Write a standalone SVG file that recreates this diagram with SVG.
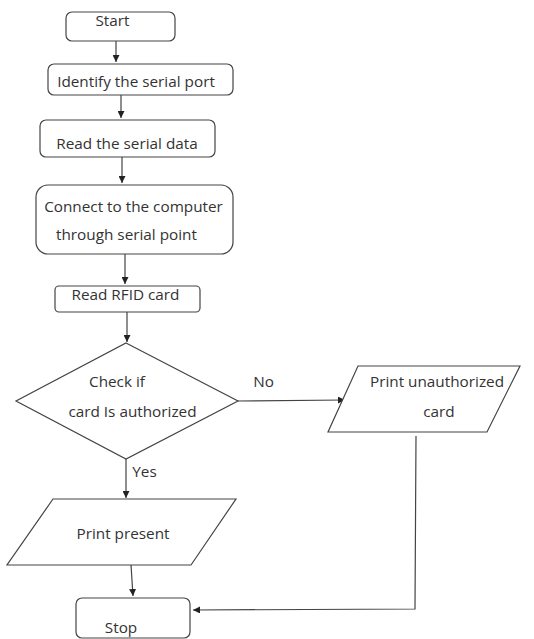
<svg xmlns="http://www.w3.org/2000/svg" width="534" height="639" viewBox="0 0 534 639">
<style>
.s{fill:#fff;stroke:#444;stroke-width:1.2}
.t{font-family:"Open Sans","Liberation Sans",sans-serif;font-size:15.3px;fill:#333;text-anchor:middle}
.c{fill:none;stroke:#444;stroke-width:1.2}
</style>
<defs>
<marker id="a" viewBox="0 0 10 10" refX="10" refY="5" markerWidth="7" markerHeight="7" orient="auto" markerUnits="userSpaceOnUse">
<path d="M0,0L10,5L0,10z" fill="#222"/>
</marker>
</defs>
<rect width="534" height="639" fill="#fff"/>
<g id="connectors">
<line class="c" x1="116" y1="41" x2="116" y2="62" marker-end="url(#a)"/>
<line class="c" x1="121" y1="95" x2="121" y2="118" marker-end="url(#a)"/>
<line class="c" x1="122" y1="157" x2="122" y2="183" marker-end="url(#a)"/>
<line class="c" x1="125" y1="254" x2="125" y2="284" marker-end="url(#a)"/>
<line class="c" x1="127" y1="312" x2="127" y2="342" marker-end="url(#a)"/>
<line class="c" x1="238" y1="401" x2="345" y2="400" marker-end="url(#a)"/>
<line class="c" x1="126" y1="459" x2="126" y2="498" marker-end="url(#a)"/>
<line class="c" x1="131" y1="565" x2="133" y2="596" marker-end="url(#a)"/>
<polyline class="c" points="416,436 415,609 193,610" marker-end="url(#a)"/>
<text class="t" x="263.5" y="387">No</text>
<text class="t" x="144.5" y="477">Yes</text>
</g>
<g id="start"><rect class="s" x="66" y="12" width="109" height="29" rx="6"/><text class="t" x="112.5" y="26">Start</text></g>
<g id="identify"><rect class="s" x="48" y="64" width="185" height="31" rx="6"/><text class="t" x="136" y="87">Identify the serial port</text></g>
<g id="readserial"><rect class="s" x="40" y="120" width="175" height="37" rx="6"/><text class="t" x="127" y="149">Read the serial data</text></g>
<g id="connect"><rect class="s" x="36" y="185" width="197" height="69" rx="12"/><text class="t" x="133.5" y="212">Connect to the computer</text><text class="t" x="126.5" y="240">through serial point</text></g>
<g id="readrfid"><rect class="s" x="55" y="286" width="145" height="26" rx="4"/><text class="t" x="125.5" y="300">Read RFID card</text></g>
<g id="check"><polygon class="s" points="126,343 238,401 126,459 16,401"/><text class="t" x="117" y="387">Check if</text><text class="t" x="132.5" y="417">card Is authorized</text></g>
<g id="unauth"><polygon class="s" points="358,366 520,366 487,432 328,432"/><text class="t" x="437" y="387">Print unauthorized</text><text class="t" x="439" y="417">card</text></g>
<g id="present"><polygon class="s" points="53,499 236,499 191,565 7,565"/><text class="t" x="123" y="539">Print present</text></g>
<g id="stop"><rect class="s" x="76" y="598" width="114" height="40" rx="6"/><text class="t" x="121" y="633">Stop</text></g>
</svg>
